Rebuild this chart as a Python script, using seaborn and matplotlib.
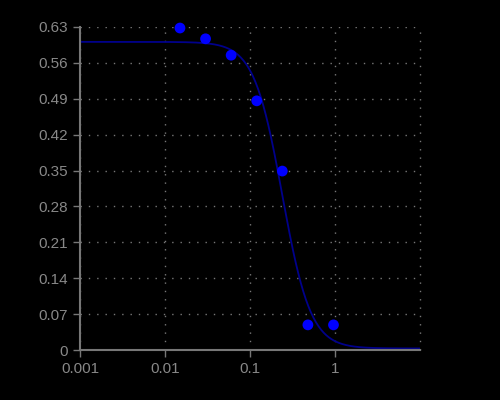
import numpy as np
import pandas as pd
import matplotlib
matplotlib.use("Agg")
import matplotlib.pyplot as plt
import seaborn as sns
from matplotlib.ticker import FixedLocator, FixedFormatter, NullFormatter, NullLocator

# data
conc = [0.015, 0.03, 0.06, 0.12, 0.24, 0.48, 0.96]
response = [0.628, 0.607, 0.575, 0.486, 0.349, 0.049, 0.049]
# fitted 4-parameter logistic curve parameters
fit_top = 0.601
fit_bottom = 0.003
fit_ic50 = 0.24
fit_hill = 2.6

y_ticks = [0, 0.07, 0.14, 0.21, 0.28, 0.35, 0.42, 0.49, 0.56, 0.63]
y_labels = ["0", "0.07", "0.14", "0.21", "0.28", "0.35", "0.42", "0.49", "0.56", "0.63"]
x_ticks = [0.001, 0.01, 0.1, 1]
x_labels = ["0.001", "0.01", "0.1", "1"]
x_max = 10

sns.set_style("dark")
plt.rcParams["font.family"] = ["Liberation Sans", "DejaVu Sans"]

fig = plt.figure(figsize=(5, 4), dpi=100, facecolor="black")
ax = fig.add_axes([0.16, 0.125, 0.68, 0.8075])
ax.set_facecolor("black")

xc = np.logspace(np.log10(0.001), np.log10(x_max), 400)
yc = fit_bottom + (fit_top - fit_bottom) / (1 + (xc / fit_ic50) ** fit_hill)
curve = pd.DataFrame({"x": xc, "y": yc})
pts = pd.DataFrame({"x": conc, "y": response})

ax.set_xscale("log")
sns.lineplot(data=curve, x="x", y="y", ax=ax, color="#00008B", linewidth=1.3, zorder=2)
sns.scatterplot(data=pts, x="x", y="y", ax=ax, color="#0000FF", s=60, edgecolor="none",
                zorder=3, clip_on=False)

ax.set_xlim(0.001, x_max)
ax.set_ylim(0, 0.63)
ax.xaxis.set_major_locator(FixedLocator(x_ticks))
ax.xaxis.set_major_formatter(FixedFormatter(x_labels))
ax.xaxis.set_minor_locator(NullLocator())
ax.yaxis.set_major_locator(FixedLocator(y_ticks))
ax.yaxis.set_major_formatter(FixedFormatter(y_labels))
ax.set_xlabel("")
ax.set_ylabel("")

grid_style = dict(color="#777777", linestyle=(0, (1, 5)), linewidth=1)
ax.grid(True, which="major", **grid_style)
ax.axvline(x_max, zorder=1, clip_on=False, **grid_style)
for s in ["top", "right"]:
    ax.spines[s].set_visible(False)
for s in ["left", "bottom"]:
    ax.spines[s].set_visible(True)
    ax.spines[s].set_color("#777777")
    ax.spines[s].set_linewidth(1.5)
ax.tick_params(axis="both", which="major", colors="#777777", labelcolor="#888888",
               length=5, width=1, labelsize=11, direction="out", bottom=True, left=True)

fig.savefig("out.png", dpi=100, facecolor="black")
